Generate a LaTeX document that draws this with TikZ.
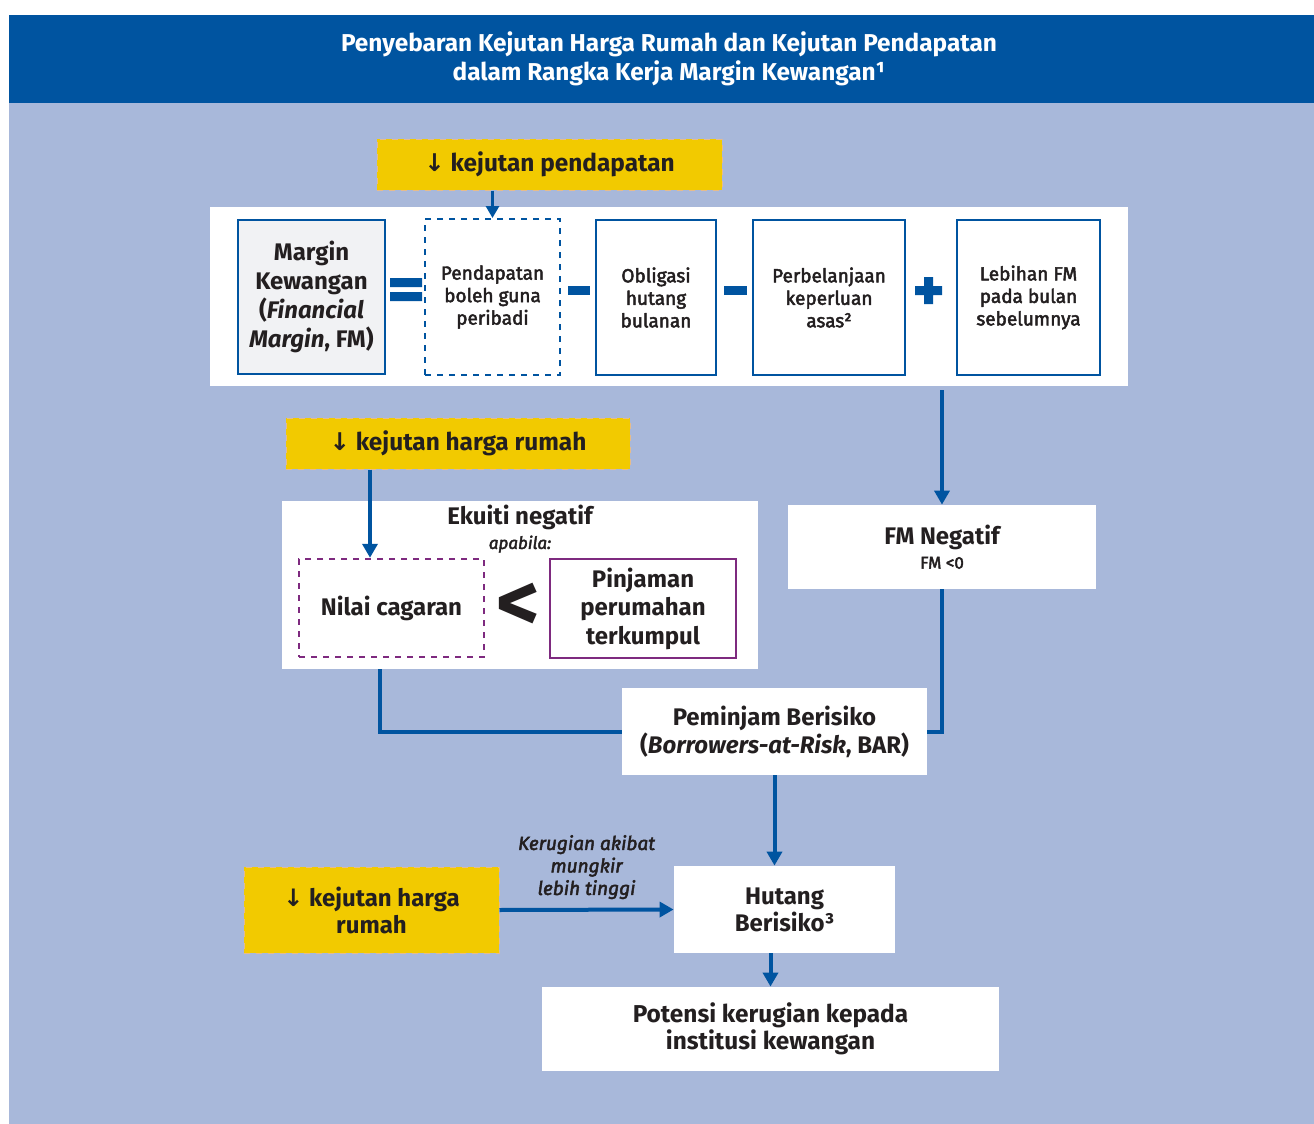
\documentclass[tikz,border=0pt]{standalone}
\usepackage{fontspec}
\setmainfont{Fira Sans}
\newfontfamily\medium[FakeBold=2.5]{Fira Sans}
\newfontfamily\arrowfont{DejaVu Sans}
\usetikzlibrary{arrows.meta, positioning, calc}
\definecolor{bnmBlue}{HTML}{0054A0}
\definecolor{bnmSky}{HTML}{A8B8DA}
\definecolor{bnmYellow}{HTML}{F2CA00}
\definecolor{bnmPurple}{HTML}{7E2A7F}
\definecolor{boxGray}{HTML}{F1F2F4}
\definecolor{textDark}{HTML}{231F20}
\definecolor{shockEdge}{HTML}{E6BC8C}
\newcommand{\dnarrow}{{\arrowfont\bfseries ↓}}
\tikzset{
  arrowB/.style={-{Triangle[length=7pt, width=7.5pt]}, bnmBlue, line width=2pt},
  arrowS/.style={-{Triangle[length=6pt, width=6.5pt]}, bnmBlue, line width=1.8pt},
  lineB/.style={bnmBlue, line width=2pt},
  panel/.style={rectangle, fill=white, inner sep=0pt},
  shockbox/.style={rectangle, fill=bnmYellow, draw=shockEdge, dashed, line width=0.5pt,
                   text=textDark, align=center, font=\fontsize{12.2}{13.5}\selectfont\bfseries},
  termbox/.style={rectangle, fill=white, draw=bnmBlue, line width=1pt, align=center,
                  text=textDark, font=\medium\fontsize{9.5}{11.25}\selectfont},
  fmbox/.style={rectangle, fill=boxGray, draw=bnmBlue, line width=1pt, align=center,
                text=textDark, font=\fontsize{12}{14.5}\selectfont\bfseries},
  whitebox/.style={rectangle, fill=white, align=center, text=textDark,
                   font=\fontsize{12}{14}\selectfont\bfseries},
  equitybox/.style={rectangle, fill=white, draw=bnmPurple, line width=1.2pt, align=center,
                    text=textDark, font=\fontsize{12}{14.25}\selectfont\bfseries},
  losslabel/.style={align=center, text=textDark, font=\medium\fontsize{9.5}{11.25}\selectfont\itshape},
}
\begin{document}
\begin{tikzpicture}[x=0.5pt, y=-0.5pt]
  \useasboundingbox (0,0) rectangle (1314,1124);
  \fill[white] (0,0) rectangle (1314,1124);
  \fill[bnmSky] (9,103) rectangle (1314,1124);
  \fill[bnmBlue] (9,15) rectangle (1314,103);
  \node[text=white, align=center, font=\fontsize{12.2}{14.5}\selectfont\bfseries] (title) at (669,59)
    {Penyebaran Kejutan Harga Rumah dan Kejutan Pendapatan\\dalam Rangka Kerja Margin Kewangan¹};

  \node[shockbox, minimum width=172.5pt, minimum height=25.5pt] (ypend) at (549.5,164.5)
    {\dnarrow\ kejutan pendapatan};
  \node[panel, minimum width=459pt, minimum height=89.5pt] (toppanel) at (669,296.5) {};
  \node[fmbox, minimum width=73.5pt, minimum height=77pt] (fm) at (311.5,297)
    {Margin\\Kewangan\\(\textit{Financial}\\\textit{Margin}, FM)};
  \node[termbox, dashed, minimum width=67.5pt, minimum height=78pt] (pdp) at (492.5,297)
    {Pendapatan\\boleh guna\\peribadi};
  \node[termbox, minimum width=60pt, minimum height=77.5pt] (obl) at (656,297.5)
    {Obligasi\\hutang\\bulanan};
  \node[termbox, minimum width=76pt, minimum height=77.5pt] (asas) at (829,297.5)
    {Perbelanjaan\\keperluan\\asas²};
  \node[termbox, minimum width=71.5pt, minimum height=77.5pt] (lbh) at (1028.5,297.5)
    {Lebihan FM\\pada bulan\\sebelumnya};
  \fill[bnmBlue] (390,278) rectangle (422,287) (390,292) rectangle (422,301);
  \fill[bnmBlue] (568,286) rectangle (590,295);
  \fill[bnmBlue] (724,286) rectangle (747,295);
  \fill[bnmBlue] (915,286) rectangle (942,295) (924,277) rectangle (933,304);

  \node[shockbox, minimum width=172pt, minimum height=25.5pt] (yrumah1) at (458,443.5)
    {\dnarrow\ kejutan harga rumah};
  \node[panel, minimum width=238pt, minimum height=84pt] (ekpanel) at (520,585) {};
  \node[align=center, text=textDark, font=\fontsize{12}{12}\selectfont\bfseries] (ektitle) at (520,529)
    {Ekuiti negatif\\{\medium\mdseries\fontsize{8.5}{10}\selectfont\itshape apabila:}};
  \node[equitybox, dashed, minimum width=92.5pt, minimum height=49pt] (nilai) at (391.5,608)
    {Nilai cagaran};
  \node[text=textDark, font=\fontsize{42}{42}\selectfont\bfseries] (lt) at (518,607) {<};
  \node[equitybox, minimum width=93pt, minimum height=49.5pt] (pinj) at (643,608.5)
    {Pinjaman\\perumahan\\terkumpul};
  \node[whitebox, minimum width=154pt, minimum height=42pt] (fmneg) at (942,547)
    {FM Negatif\\[-2pt]{\medium\mdseries\fontsize{8.5}{10}\selectfont FM <0}};

  \node[whitebox, minimum width=152.5pt, minimum height=43.5pt] (bar) at (774.5,731.5)
    {Peminjam Berisiko\\(\textit{Borrowers-at-Risk}, BAR)};
  \node[shockbox, font=\fontsize{12}{13.5}\selectfont\bfseries, minimum width=127.5pt, minimum height=43pt] (yrumah2) at (371.5,910)
    {\dnarrow\ kejutan harga\\rumah};
  \node[whitebox, font=\fontsize{12}{13.5}\selectfont\bfseries, minimum width=110.5pt, minimum height=43.5pt] (hutang) at (784.5,909.5)
    {Hutang\\Berisiko³};
  \node[whitebox, font=\fontsize{12.2}{13.5}\selectfont\bfseries, minimum width=228.5pt, minimum height=42pt] (potensi) at (770.5,1029)
    {Potensi kerugian kepada\\institusi kewangan};

  \draw[arrowS] (pdp.north |- ypend.south) -- (pdp.north);
  \draw[arrowB] ([yshift=-2pt]fmneg.north |- toppanel.south) -- (fmneg.north);
  \draw[arrowB] ([xshift=-44pt]yrumah1.south) -- ([xshift=-44pt]yrumah1.south |- nilai.north);
  \draw[lineB] ([xshift=-70pt]ekpanel.south) |- (bar.west);
  \draw[lineB] (fmneg.south) |- (bar.east);
  \draw[arrowB] (bar.south) -- (bar.south |- hutang.north);
  \draw[arrowB] (yrumah2.east) -- node[losslabel, above=1pt] {Kerugian akibat\\mungkir\\lebih tinggi} (hutang.west);
  \draw[arrowB] (potensi.north |- hutang.south) -- (potensi.north);
\end{tikzpicture}
\end{document}
